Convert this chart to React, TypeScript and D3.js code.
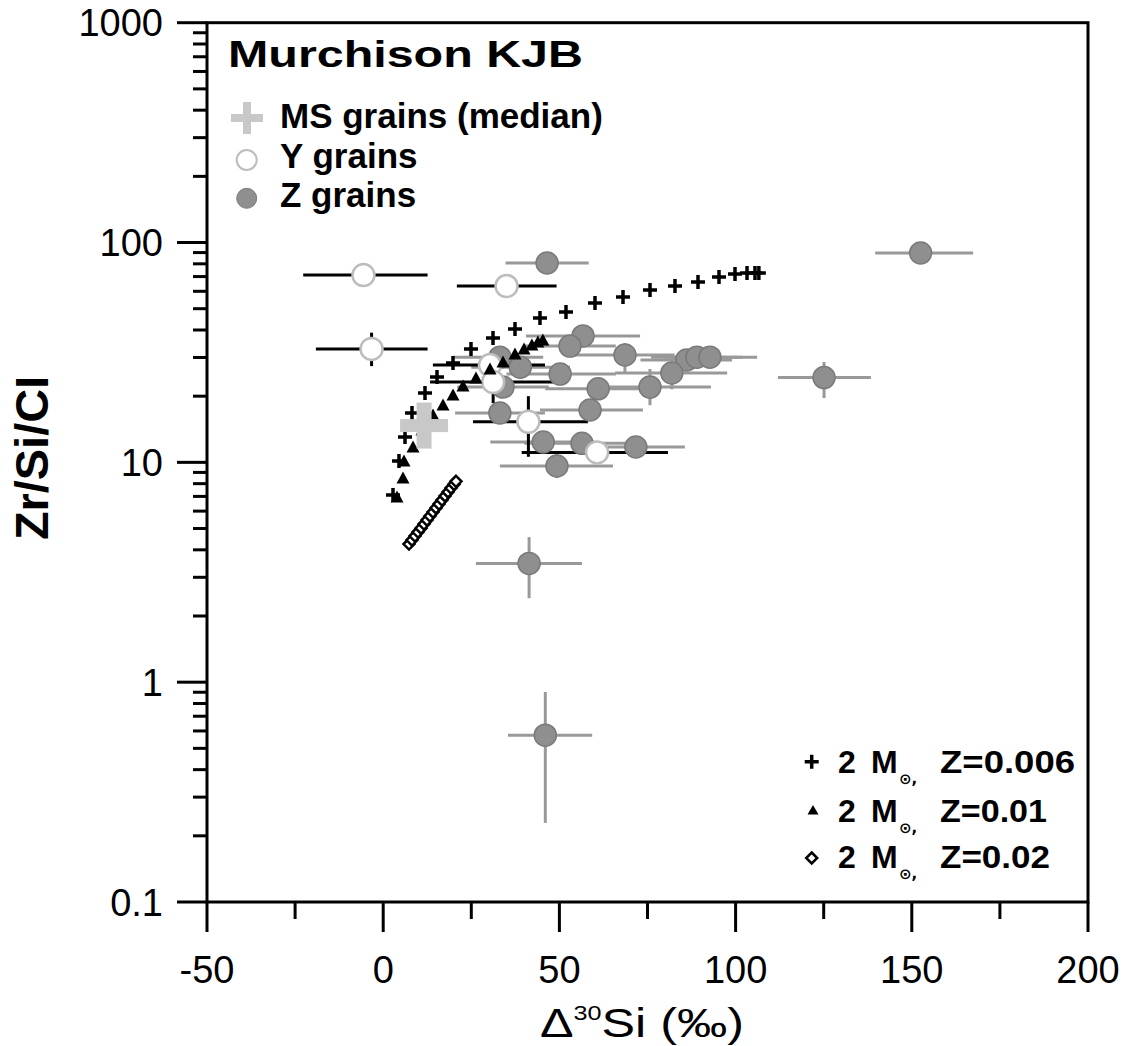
import React from 'react';
import * as d3 from 'd3';

const W = 1129;
const H = 1046;

// Axis ticks
const xMajorTicks = [-50, 0, 50, 100, 150, 200];
const xMinorTicks = [-25, 25, 75, 125, 175];
const yMajorTicks = [0.1, 1, 10, 100, 1000];
const yMajorLabels = ['0.1', '1', '10', '100', '1000'];

// Z grains: [x, y, xLo, xHi, yLo, yHi]
const zGrains: number[][] = [
  [46.5, 80.7, 34.7, 58.3, 80.7, 80.7],
  [152.5, 89.6, 139.6, 167.4, 81.5, 98.0],
  [125.1, 24.3, 112.0, 138.4, 19.6, 28.6],
  [46.0, 0.574, 35.4, 59.3, 0.229, 0.902],
  [41.4, 3.47, 26.3, 56.4, 2.41, 4.57],
  [56.7, 37.6, 40.5, 72.9, 37.6, 37.6],
  [53.0, 33.8, 40.0, 66.0, 33.8, 33.8],
  [68.6, 30.8, 54.4, 82.7, 25.5, 34.9],
  [86.1, 29.2, 73.0, 99.0, 29.2, 29.2],
  [89.0, 30.1, 76.0, 102.0, 30.1, 30.1],
  [92.7, 30.1, 79.9, 106.1, 30.1, 30.1],
  [81.9, 25.5, 65.8, 97.6, 21.5, 30.3],
  [50.2, 25.2, 35.0, 66.0, 25.2, 25.2],
  [61.0, 21.6, 46.0, 76.0, 21.6, 21.6],
  [75.7, 22.0, 58.6, 93.0, 18.2, 26.6],
  [58.7, 17.3, 44.5, 73.7, 17.3, 17.3],
  [56.4, 12.2, 40.0, 72.0, 12.2, 12.2],
  [71.7, 11.74, 58.6, 85.6, 11.74, 11.74],
  [49.3, 9.62, 33.1, 65.2, 8.48, 10.9],
  [45.4, 12.37, 30.4, 60.0, 12.37, 12.37],
  [33.1, 16.76, 20.4, 45.9, 15.1, 18.6],
  [33.1, 30.1, 19.8, 45.4, 30.1, 30.1],
  [38.9, 27.1, 25.0, 53.0, 27.1, 27.1],
  [34.0, 22.0, 21.0, 47.0, 22.0, 22.0],
];

// Y grains: [x, y, xLo, xHi, yLo, yHi]
const yGrains: number[][] = [
  [-5.6, 71.1, -22.7, 12.6, 71.1, 71.1],
  [35.0, 63.4, 20.9, 49.2, 63.4, 63.4],
  [-3.3, 32.8, -19.1, 12.6, 27.4, 38.9],
  [30.3, 27.7, 14.1, 45.9, 27.7, 27.7],
  [31.2, 23.2, 13.3, 48.2, 18.6, 29.0],
  [41.2, 15.3, 25.5, 58.1, 10.6, 20.0],
  [60.7, 11.1, 39.3, 80.8, 11.1, 11.1],
];

// MS grains median
const msMedian = [11.6, 14.7];

// Model: 2 Msun, Z=0.006 (crosses)
const modelZ006X = [2.78, 4.48, 6.19, 8.17, 11.86, 15.27, 19.81, 24.91, 31.16, 37.40, 44.49, 51.87, 60.10, 68.05, 75.71, 82.80, 89.33, 95.29, 99.83, 103.24, 105.5, 106.6];
const modelZ006Y = [7.10, 10.14, 13.04, 16.76, 20.67, 24.44, 28.30, 32.78, 36.78, 40.42, 45.35, 48.29, 53.05, 56.49, 60.79, 63.40, 66.12, 69.66, 71.90, 72.64, 72.64, 72.6];

// Model: 2 Msun, Z=0.01 (triangles)
const modelZ01X = [3.92, 5.62, 5.90, 8.46, 11.01, 14.13, 16.97, 19.81, 22.64, 26.33, 30.31, 34.0, 37.4, 39.96, 42.2, 43.9, 45.3];
const modelZ01Y = [6.95, 8.48, 10.14, 11.74, 14.03, 16.41, 18.23, 20.24, 22.24, 24.18, 26.58, 28.60, 31.10, 32.78, 34.18, 35.27, 36.0];

// Model: 2 Msun, Z=0.02 (diamonds)
const modelZ02X = [7.32, 8.17, 9.02, 9.88, 10.73, 11.58, 12.43, 13.28, 14.13, 14.98, 15.83, 16.69, 17.54, 18.39, 19.24, 20.09, 20.66];
const modelZ02Y = [4.25, 4.43, 4.62, 4.82, 5.02, 5.24, 5.46, 5.70, 5.94, 6.20, 6.46, 6.74, 7.03, 7.33, 7.64, 7.94, 8.20];

const topLegendLabels = ['MS grains (median)', 'Y grains', 'Z grains'];
const modelLegendZ = ['Z=0.006', 'Z=0.01', 'Z=0.02'];

const FONT = '"Liberation Sans", Arial, Helvetica, sans-serif';
const ZFILL = '#8f8f8f';
const ZSTROKE = '#7a7a7a';
const ZBAR = '#999999';
const YSTROKE = '#bdbdbd';
const MSCOLOR = '#c8c8c8';

export default function App() {
  const x = d3.scaleLinear().domain([-50, 200]).range([207, 1088]);
  const y = d3.scaleLog().domain([0.1, 1000]).range([902, 22.7]);
  const x0 = 207, x1 = 1088, y0 = 902, y1 = 22.7;

  const yMinor: number[] = [];
  [0.1, 1, 10, 100].forEach((d) => {
    for (let k = 2; k <= 9; k++) yMinor.push(d * k);
  });

  const crossPath = 'M-7,0H7M0,-7V7';
  const triPath = 'M0,-6.5L6.5,5.5H-6.5Z';
  const diaPath = 'M0,-5.5L5.5,0L0,5.5L-5.5,0Z';

  const r = 11;

  return (
    <svg width={W} height={H} style={{ position: 'absolute', left: 0, top: 0, background: '#fff' }} fontFamily={FONT}>
      <rect x={0} y={0} width={W} height={H} fill="#fff" />

      {/* Z grain error bars */}
      <g stroke={ZBAR} strokeWidth={3}>
        {zGrains.map((d, i) => (
          <g key={'zb' + i}>
            <line x1={x(d[2])} x2={x(d[3])} y1={y(d[1])} y2={y(d[1])} />
            {d[4] !== d[5] && <line x1={x(d[0])} x2={x(d[0])} y1={y(d[4])} y2={y(d[5])} />}
          </g>
        ))}
      </g>
      {/* Y grain error bars */}
      <g stroke="#000" strokeWidth={3}>
        {yGrains.map((d, i) => (
          <g key={'yb' + i}>
            <line x1={x(d[2])} x2={x(d[3])} y1={y(d[1])} y2={y(d[1])} />
            {d[4] !== d[5] && <line x1={x(d[0])} x2={x(d[0])} y1={y(d[4])} y2={y(d[5])} />}
          </g>
        ))}
      </g>

      {/* Z grains */}
      <g fill={ZFILL} stroke={ZSTROKE} strokeWidth={1.5}>
        {zGrains.map((d, i) => (
          <circle key={'z' + i} cx={x(d[0])} cy={y(d[1])} r={r} />
        ))}
      </g>
      {/* Y grains */}
      <g fill="#fff" stroke={YSTROKE} strokeWidth={2.5}>
        {yGrains.map((d, i) => (
          <circle key={'y' + i} cx={x(d[0])} cy={y(d[1])} r={r} />
        ))}
      </g>

      {/* Models */}
      <g stroke="#000" strokeWidth={2.5} fill="#fff">
        {modelZ02X.map((v, i) => (
          <path key={'m2' + i} d={diaPath} transform={`translate(${x(v)},${y(modelZ02Y[i])})`} />
        ))}
      </g>
      <g fill="#000">
        {modelZ01X.map((v, i) => (
          <path key={'m1' + i} d={triPath} transform={`translate(${x(v)},${y(modelZ01Y[i])})`} />
        ))}
      </g>
      <g stroke="#000" strokeWidth={3.5} fill="none">
        {modelZ006X.map((v, i) => (
          <path key={'m0' + i} d={crossPath} transform={`translate(${x(v)},${y(modelZ006Y[i])})`} />
        ))}
      </g>

      {/* MS median cross */}
      <g transform={`translate(${x(msMedian[0])},${y(msMedian[1])})`} fill={MSCOLOR}>
        <rect x={-24} y={-6.5} width={48} height={13} />
        <rect x={-7.5} y={-23} width={15} height={46} />
      </g>

      {/* Frame */}
      <rect x={x0} y={y1} width={x1 - x0} height={y0 - y1} fill="none" stroke="#000" strokeWidth={3} />

      {/* Axis ticks */}
      <g stroke="#000" strokeWidth={3}>
        {yMajorTicks.map((t) => (
          <line key={'ymt' + t} x1={x0 - 30} x2={x0} y1={y(t)} y2={y(t)} />
        ))}
        {yMinor.map((t) => (
          <line key={'ymn' + t} x1={x0 - 14} x2={x0} y1={y(t)} y2={y(t)} />
        ))}
        {xMajorTicks.map((t) => (
          <line key={'xmt' + t} x1={x(t)} x2={x(t)} y1={y0} y2={y0 + 30} />
        ))}
        {xMinorTicks.map((t) => (
          <line key={'xmn' + t} x1={x(t)} x2={x(t)} y1={y0} y2={y0 + 17} />
        ))}
      </g>
      <g fontSize={38} fill="#000">
        {yMajorTicks.map((t, i) => (
          <text key={'yl' + t} x={163} y={y(t) + 13.5} textAnchor="end">{yMajorLabels[i]}</text>
        ))}
        {xMajorTicks.map((t) => (
          <text key={'xl' + t} x={x(t)} y={983} textAnchor="middle">{String(t)}</text>
        ))}
      </g>

      {/* Axis titles */}
      <text x={642} y={1037} fontSize={40} textAnchor="middle" textLength={204} lengthAdjust="spacingAndGlyphs">
        Δ<tspan fontSize={20} dy={-17}>30</tspan><tspan dy={17}>Si (‰)</tspan>
      </text>
      <text transform="translate(48,458) rotate(-90)" fontSize={46} fontWeight="bold" textAnchor="middle" textLength={164} lengthAdjust="spacingAndGlyphs">
        Zr/Si/CI
      </text>

      {/* Top-left legend */}
      <text x={228} y={67} fontSize={36} fontWeight="bold" textLength={355} lengthAdjust="spacingAndGlyphs">Murchison KJB</text>
      <g transform="translate(247,118)" fill={MSCOLOR}>
        <rect x={-16} y={-4} width={32} height={8} />
        <rect x={-4} y={-16} width={8} height={32} />
      </g>
      <circle cx={246.7} cy={160} r={10} fill="#fff" stroke={YSTROKE} strokeWidth={2} />
      <circle cx={246.7} cy={198.3} r={10} fill={ZFILL} stroke={ZSTROKE} strokeWidth={1} />
      <g fontSize={35} fontWeight="bold">
        <text x={280} y={128.3}>{topLegendLabels[0]}</text>
        <text x={280} y={168.3}>{topLegendLabels[1]}</text>
        <text x={280} y={206.7}>{topLegendLabels[2]}</text>
      </g>

      {/* Bottom-right legend */}
      <path d={crossPath} transform="translate(811.7,761.7)" stroke="#000" strokeWidth={3.5} fill="none" />
      <path d="M0,-5L5.5,4.5H-5.5Z" transform="translate(813,810)" fill="#000" />
      <path d="M0,-5.5L5.5,0L0,5.5L-5.5,0Z" transform="translate(811.7,858)" fill="#fff" stroke="#000" strokeWidth={2.5} />
      {[773, 822, 868].map((by, i) => (
        <g key={'ml' + i} fontSize={32} fontWeight="bold">
          <text x={838} y={by}>2</text>
          <text x={871} y={by}>M</text>
          <text x={899} y={by + 11} fontSize={15} fontFamily='"DejaVu Sans", sans-serif'>⊙,</text>
          <text x={940} y={by} textLength={[135, 107, 110][i]} lengthAdjust="spacingAndGlyphs">{modelLegendZ[i]}</text>
        </g>
      ))}
    </svg>
  );
}
